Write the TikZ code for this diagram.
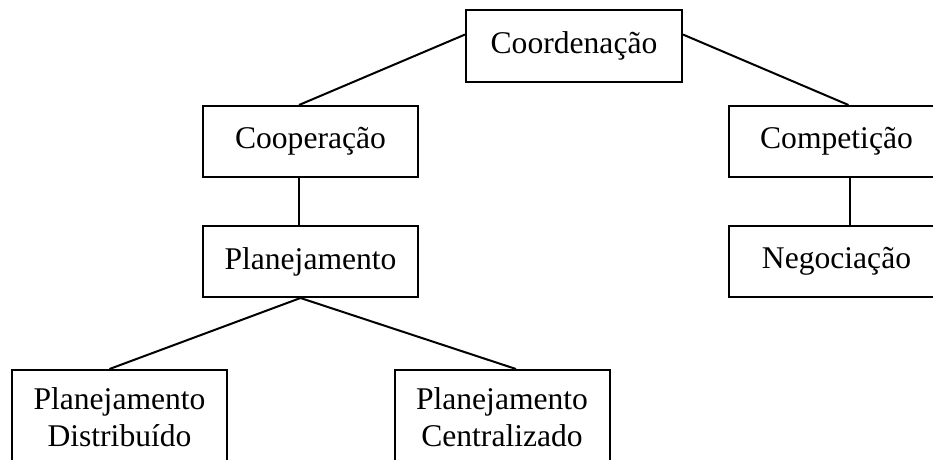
\documentclass[tikz,border=0pt]{standalone}
\usepackage{fontspec}
\setmainfont{Liberation Serif}
\begin{document}
\begin{tikzpicture}[x=1pt,y=-1pt,line width=2pt,
    caixa/.style={draw,minimum width=215pt,minimum height=71pt,inner sep=0pt,
      font=\fontsize{31.6}{37}\selectfont},
    caixadupla/.style={caixa,minimum height=94pt,align=center,anchor=north}]
          \useasboundingbox (0,0) rectangle (933,459);
          \clip (0,0) rectangle (933,459);

          \node[caixa,minimum width=216pt,minimum height=72pt] (coord) at (574,46) {Coordenação};
          \node[caixa] (coop) at (310.5,141.5) {Cooperação};
          \node[caixa] (comp) at (836.5,141.5) {Competição};
          \node[caixa] (plan) at (310.5,261.5) {Planejamento};
          \node[caixa] (nego) at (836.5,261) {Negociação};
          \node[caixadupla] (pdist) at (119.5,369) {Planejamento\\Distribuído};
          \node[caixadupla] (pcent) at (502,369) {Planejamento\\Centralizado};

          \draw (coord.174) -- ([xshift=-11.5pt]coop.north);
          \draw (coord.6) -- ([xshift=12pt]comp.north);
          \draw ([xshift=-11.5pt]coop.south) -- ([xshift=-11.5pt]plan.north);
          \draw ([xshift=13pt]comp.south) -- ([xshift=13pt]nego.north);
          \draw ([xshift=-10pt]plan.south) -- ([xshift=-10pt]pdist.north);
          \draw ([xshift=-10pt]plan.south) -- ([xshift=14pt]pcent.north);
        \end{tikzpicture}
\end{document}
